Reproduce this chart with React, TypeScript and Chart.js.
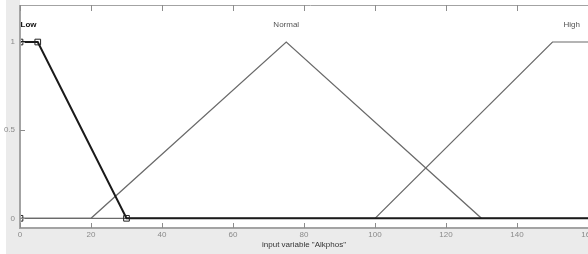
import React, { useEffect, useRef } from "react";
import { Chart, registerables } from "chart.js";

Chart.register(...registerables);

// Membership functions of input variable "Alkphos"
const mfNames = ["Low", "Normal", "High"];
const lowX = [0, 5, 30, 160];
const lowY = [1, 1, 0, 0];
const normalX = [0, 20, 75, 130, 160];
const normalY = [0, 0, 1, 0, 0];
const highX = [0, 100, 150, 160];
const highY = [0, 0, 1, 1];
const lowMarkerX = [0, 0, 5, 30];
const lowMarkerY = [0, 1, 1, 0];
const labelX = [2.4, 75, 155.4];
const labelY = [1.1, 1.1, 1.1];
const xTicks = [0, 20, 40, 60, 80, 100, 120, 140, 160];
const yTicks = [0, 0.5, 1];
const xTitle = 'input variable "Alkphos"';

const pts = (xs: number[], ys: number[]) => xs.map((x, i) => ({ x, y: ys[i] }));

const FONT = "'Liberation Sans', Arial, Helvetica, sans-serif";
const AXIS = "#a3a3a3";

const framePlugin = {
  id: "frame",
  beforeDraw(chart: any) {
    const { ctx, chartArea: a } = chart;
    ctx.save();
    ctx.fillStyle = "#ffffff";
    ctx.fillRect(a.left, 0, a.right - a.left + 20, a.bottom);
    ctx.restore();
  },
  afterDraw(chart: any) {
    const { ctx, chartArea: a, scales } = chart;
    const xs = scales.x;
    const ys = scales.y;
    ctx.save();
    // frame
    ctx.strokeStyle = AXIS;
    ctx.lineWidth = 1;
    ctx.beginPath();
    ctx.moveTo(a.left, a.top + 0.5);
    ctx.lineTo(a.right + 20, a.top + 0.5);
    ctx.stroke();
    ctx.lineWidth = 2;
    ctx.beginPath();
    ctx.moveTo(a.left, a.top);
    ctx.lineTo(a.left, a.bottom);
    ctx.lineTo(a.right + 20, a.bottom);
    ctx.stroke();
    // inward ticks
    ctx.lineWidth = 1;
    ctx.strokeStyle = "#8c8c8c";
    xTicks.forEach((v) => {
      const px = Math.round(xs.getPixelForValue(v)) + 0.5;
      ctx.beginPath();
      ctx.moveTo(px, a.bottom);
      ctx.lineTo(px, a.bottom - 5);
      ctx.moveTo(px, a.top);
      ctx.lineTo(px, a.top + 6);
      ctx.stroke();
    });
    yTicks.forEach((v) => {
      const py = Math.round(ys.getPixelForValue(v)) + 0.5;
      ctx.beginPath();
      ctx.moveTo(a.left, py);
      ctx.lineTo(a.left + 5, py);
      ctx.stroke();
    });
    // MF names
    ctx.textAlign = "center";
    ctx.textBaseline = "middle";
    mfNames.forEach((n, i) => {
      ctx.fillStyle = i === 0 ? "#111111" : "#555555";
      ctx.font = i === 0 ? `bold 8px ${FONT}` : `8px ${FONT}`;
      ctx.fillText(n, xs.getPixelForValue(labelX[i]), ys.getPixelForValue(labelY[i]));
    });
    ctx.restore();
  },
};

export default function App() {
  const ref = useRef<HTMLCanvasElement | null>(null);

  useEffect(() => {
    if (!ref.current) return;
    const chart = new Chart(ref.current, {
      type: "scatter",
      data: {
        datasets: [
          {
            label: "Low",
            data: pts(lowX, lowY),
            showLine: true,
            borderColor: "#1a1a1a",
            borderWidth: 2,
            pointRadius: 0,
            order: 0,
          },
          {
            label: "Low markers",
            data: pts(lowMarkerX, lowMarkerY),
            showLine: false,
            pointStyle: "rect",
            pointRadius: 4,
            pointBorderWidth: 1,
            pointBorderColor: "#222222",
            pointBackgroundColor: "rgba(0,0,0,0)",
            order: -1,
          },
          {
            label: "Normal",
            data: pts(normalX, normalY),
            showLine: true,
            borderColor: "#6a6a6a",
            borderWidth: 1.2,
            pointRadius: 0,
            order: 2,
          },
          {
            label: "High",
            data: pts(highX, highY),
            showLine: true,
            borderColor: "#6a6a6a",
            borderWidth: 1.2,
            pointRadius: 0,
            order: 3,
          },
        ],
      },
      options: {
        responsive: false,
        animation: false,
        devicePixelRatio: 1,
        layout: { padding: { left: 0, top: 5, right: 12, bottom: 0 } },
        plugins: { legend: { display: false }, tooltip: { enabled: false }, title: { display: false } },
        scales: {
          x: {
            type: "linear",
            min: 0,
            max: 160,
            grid: { display: false, drawTicks: false },
            border: { display: false },
            afterBuildTicks: (s: any) => {
              s.ticks = xTicks.map((v) => ({ value: v }));
            },
            afterFit: (s: any) => {
              s.height = 26;
              s.paddingLeft = 0;
              s.paddingRight = 0;
            },
            ticks: {
              color: "#8a8a8a",
              font: { size: 8, family: FONT },
              padding: 2,
              maxRotation: 0,
              autoSkip: false,
            },
            title: {
              display: true,
              text: xTitle,
              color: "#333333",
              font: { size: 8, family: FONT },
              padding: { top: 0, bottom: 4 },
            },
          },
          y: {
            type: "linear",
            min: -0.055,
            max: 1.21,
            grid: { display: false, drawTicks: false },
            border: { display: false },
            afterBuildTicks: (s: any) => {
              s.ticks = yTicks.map((v) => ({ value: v }));
            },
            afterFit: (s: any) => {
              s.width = 20;
              s.paddingTop = 0;
              s.paddingBottom = 0;
            },
            ticks: {
              color: "#8a8a8a",
              font: { size: 8, family: FONT },
              padding: 5,
              callback: (v: any) => String(v),
            },
          },
        },
      },
      plugins: [framePlugin],
    });
    return () => chart.destroy();
  }, []);

  return (
    <div
      style={{
        position: "fixed",
        left: 0,
        top: 0,
        width: 588,
        height: 254,
        overflow: "hidden",
        background: "#ebebeb",
      }}
    >
      <div style={{ position: "absolute", left: 0, top: 0, width: 6, height: 254, background: "#ffffff" }} />
      <canvas ref={ref} width={600} height={254} style={{ position: "absolute", left: 0, top: 0 }} />
    </div>
  );
}
